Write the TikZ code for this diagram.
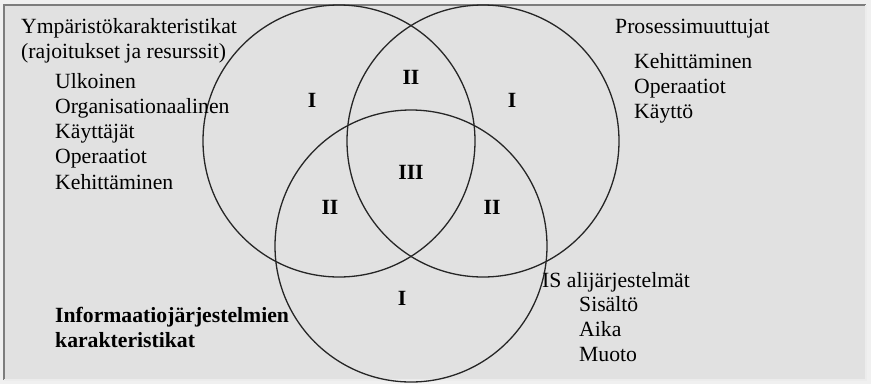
\documentclass[tikz,border=0pt]{standalone}
\usepackage{fontspec}
\setmainfont{Liberation Serif}
\usetikzlibrary{positioning}
\definecolor{PanelGray}{RGB}{225,225,225}
\definecolor{MarginGray}{RGB}{240,240,240}
\definecolor{EdgeDark}{RGB}{125,125,125}
\definecolor{EdgeLight}{RGB}{236,236,236}
\newcommand{\linesof}[1]{\begin{tabular}[t]{@{}l@{}}#1\end{tabular}}

\begin{document}
\begin{tikzpicture}[x=1pt, y=-1pt,
        venn/.style={circle, draw=black!85, line width=1.3pt, inner sep=0pt,
                     minimum size=272pt},
        listtext/.style={anchor=base west, inner sep=0pt,
                         font=\fontsize{21.7}{25.3}\selectfont},
        region/.style={inner sep=0pt, font=\fontsize{21.7}{25}\selectfont\bfseries}]

    \useasboundingbox (0,0) rectangle (871,384);

    % Panel with inset edge
    \fill[MarginGray] (0,0) rectangle (871,384);
    \fill[PanelGray] (4,5) rectangle (866,380);
    \draw[EdgeDark, line width=2pt] (4,380) -- (4,5) -- (866,5);
    \draw[EdgeLight, line width=2pt] (866,5) -- (866,380) -- (4,380);

    % The three sets
    \node[venn] (envSet)  at (339,141) {};
    \node[venn] (procSet) at (483,141) {};
    \node[venn] (isSet)   at (411,246) {};

    % Region labels
    \node[region] (regE)   at (312,100) {I};
    \node[region] (regEP)  at (411,77)  {II};
    \node[region] (regP)   at (512,100) {I};
    \node[region] (regEPI) at (411,172) {III};
    \node[region] (regEI)  at (330,207) {II};
    \node[region] (regPI)  at (492,207) {II};
    \node[region] (regI)   at (402,298) {I};

    % Environment characteristics
    \node[listtext] (envTitle) at (21,33) {\linesof{Ympäristökarakteristikat\\(rajoitukset ja resurssit)}};
    \node[listtext] (envList) at (55,88) {\linesof{Ulkoinen\\Organisationaalinen\\Käyttäjät\\Operaatiot\\Kehittäminen}};

    % Process variables
    \node[listtext] (procTitle) at (615,33) {Prosessimuuttujat};
    \node[listtext] (procList) at (634,68) {\linesof{Kehittäminen\\Operaatiot\\Käyttö}};

    % IS subsystems
    \node[listtext] (isTitle) at (542,287) {IS alijärjestelmät};
    \node[listtext] (isList) at (579,311) {\linesof{Sisältö\\Aika\\Muoto}};

    % IS characteristics
    \node[listtext, font=\fontsize{21.7}{25.3}\selectfont\bfseries] (infoTitle) at (55,322)
        {\linesof{Informaatiojärjestelmien\\karakteristikat}};
\end{tikzpicture}
\end{document}
